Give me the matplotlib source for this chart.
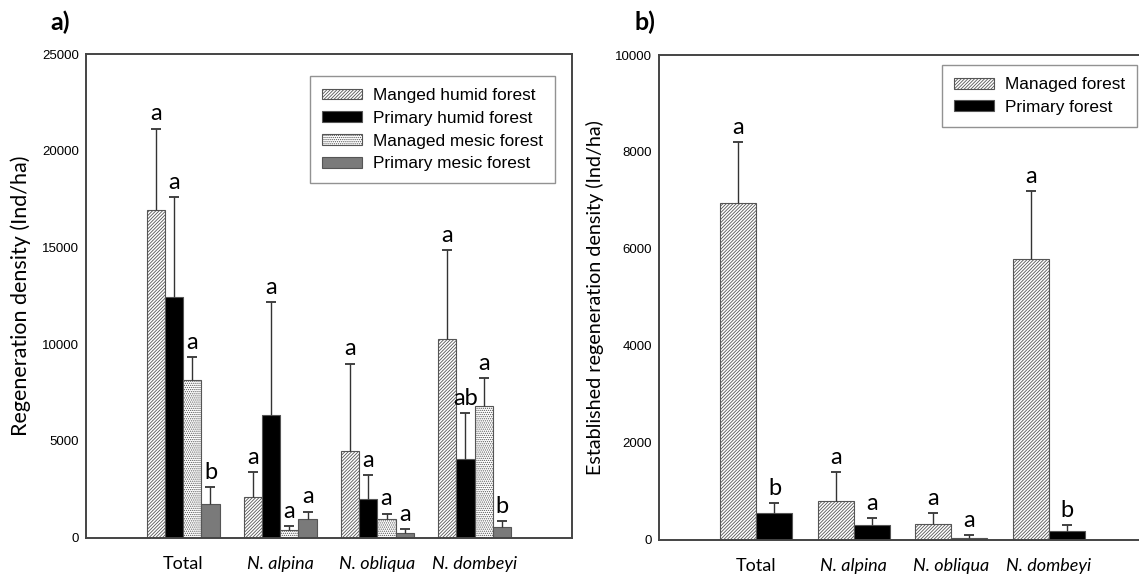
import matplotlib
matplotlib.use('Agg')
import matplotlib.pyplot as plt
import numpy as np

plt.rcParams['hatch.linewidth'] = 0.6

# categories on the x axis
cats = ['Total', 'N. alpina', 'N. obliqua', 'N. dombeyi']

# panel a) regeneration density (Ind/ha), mean and upper error bar end
a_names = ['Manged humid forest', 'Primary humid forest',
           'Managed mesic forest', 'Primary mesic forest']
a_mean = [[16950, 2100, 4500, 10250],
          [12450, 6350, 2000, 4050],
          [8150, 400, 950, 6800],
          [1750, 950, 250, 550]]
a_top = [[21150, 3400, 9000, 14850],
         [17600, 12200, 3250, 6450],
         [9350, 600, 1250, 8250],
         [2600, 1350, 450, 850]]
a_letters = [['a', 'a', 'a', 'a'],
             ['a', 'a', 'a', 'ab'],
             ['a', 'a', 'a', 'a'],
             ['b', 'a', 'a', 'b']]

# panel b) established regeneration density (Ind/ha)
b_names = ['Managed forest', 'Primary forest']
b_mean = [[6950, 800, 330, 5800],
          [550, 300, 40, 180]]
b_top = [[8200, 1400, 550, 7200],
         [750, 450, 90, 300]]
b_letters = [['a', 'a', 'a', 'a'],
             ['b', 'a', 'a', 'b']]

a_style = [dict(color='white', hatch='//////////'),
           dict(color='black', hatch=None),
           dict(color='white', hatch='........'),
           dict(color='#7a7a7a', hatch=None)]
b_style = [dict(color='white', hatch='//////////'),
           dict(color='black', hatch=None)]

txt_font = 'Lato'
edge = '#555555'


def draw_panel(ax, names, means, tops, letters, styles, width, ymax, ylabel, ysize):
    n = len(names)
    x = np.arange(len(cats))
    for i in range(n):
        pos = x + (i - (n - 1) / 2) * width
        m = np.array(means[i])
        err = np.array(tops[i]) - m
        ax.bar(pos, m, width, color=styles[i]['color'], hatch=styles[i]['hatch'],
               edgecolor=edge, linewidth=0.8, label=names[i], zorder=2)
        eb = ax.errorbar(pos, m, yerr=[np.zeros_like(err), err], fmt='none',
                         ecolor='#333333', elinewidth=1.0, capsize=3.6, capthick=1.3,
                         zorder=3)
        # only keep the upper caps
        for cl in eb.lines[1]:
            if np.allclose(cl.get_ydata(), m):
                cl.set_visible(False)
        for px, t, lab in zip(pos, tops[i], letters[i]):
            ax.annotate(lab, (px, t), xytext=(0, 3), textcoords='offset points',
                        ha='center', va='bottom', fontsize=17, family=txt_font)
    ax.set_xlim(-1, 4)
    ax.set_ylim(0, ymax)
    ax.set_xticks(x)
    ax.set_xticklabels(cats, fontsize=13, family=txt_font)
    for lab in ax.get_xticklabels()[1:]:
        lab.set_style('italic')
    ax.tick_params(axis='x', length=0, pad=13)
    ax.tick_params(axis='y', length=0, pad=5, labelsize=9.5)
    for lab in ax.get_yticklabels():
        lab.set_family('Liberation Sans')
    ax.set_ylabel(ylabel, fontsize=ysize, family=txt_font, labelpad=8)
    for s in ax.spines.values():
        s.set_color('#444444')
        s.set_linewidth(1.4)


legend_kw = dict(loc='upper right', fancybox=False, edgecolor='#777777',
                 handlelength=2.3, handleheight=0.6, borderpad=0.7,
                 labelspacing=0.45, handletextpad=0.65, borderaxespad=0,
                 prop={'family': 'Liberation Sans', 'size': 12.4})

fig = plt.figure(figsize=(11.39, 5.74), dpi=100)

ax1 = fig.add_axes([0.0755, 0.0632, 0.4264, 0.8427])
draw_panel(ax1, a_names, a_mean, a_top, a_letters, a_style, 0.1875, 25000,
           'Regeneration density (Ind/ha)', 15.5)
ax1.set_yticks(np.arange(0, 25001, 5000))
leg1 = ax1.legend(bbox_to_anchor=(0.966, 0.9545), **legend_kw)
leg1.get_frame().set_linewidth(1.0)

ax2 = fig.add_axes([0.5786, 0.0601, 0.4276, 0.844])
draw_panel(ax2, b_names, b_mean, b_top, b_letters, b_style, 0.37, 10000,
           'Established regeneration density (Ind/ha)', 14.2)
ax2.set_yticks(np.arange(0, 10001, 2000))
leg2 = ax2.legend(bbox_to_anchor=(0.9815, 0.979), **legend_kw)
leg2.get_frame().set_linewidth(1.0)

fig.text(0.044, 0.962, 'a)', fontsize=18, fontweight='bold', family=txt_font, va='center')
fig.text(0.557, 0.962, 'b)', fontsize=18, fontweight='bold', family=txt_font, va='center')

fig.savefig('out.png', dpi=100)
